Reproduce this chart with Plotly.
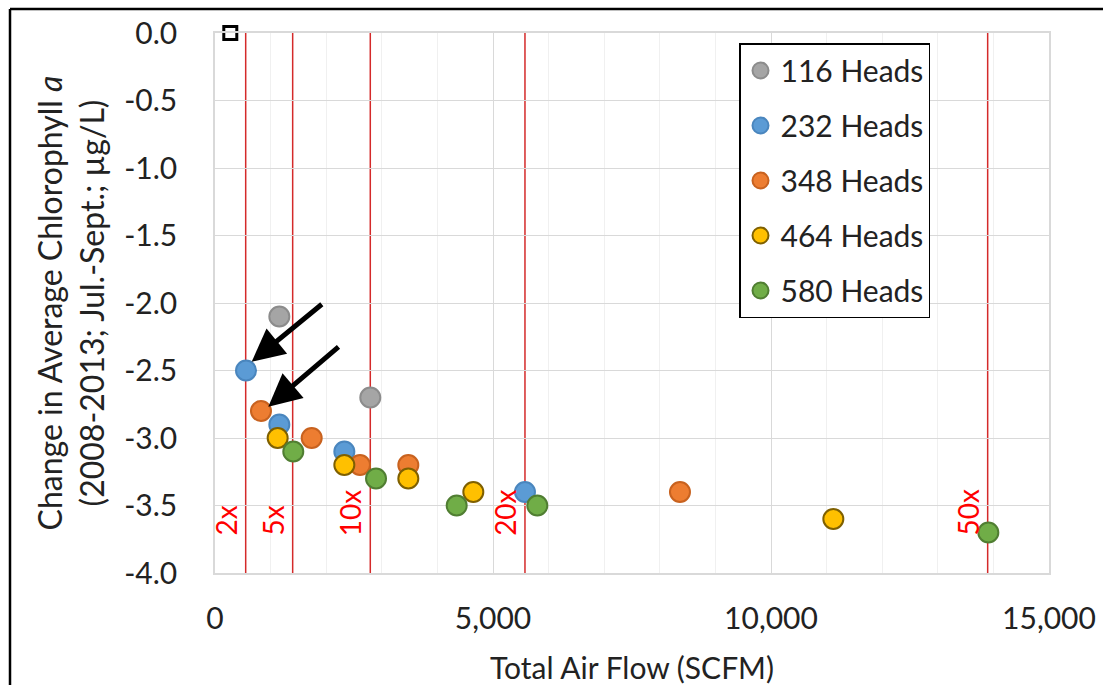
import plotly.graph_objects as go

# ---- data ----
series_names = ["116 Heads", "232 Heads", "348 Heads", "464 Heads", "580 Heads"]
x_116 = [1157, 2793]
y_116 = [-2.1, -2.7]
x_232 = [558, 1157, 2326, 5575]
y_232 = [-2.5, -2.9, -3.1, -3.4]
x_348 = [827, 1739, 2608, 3477, 8363]
y_348 = [-2.8, -3.0, -3.2, -3.2, -3.4]
x_464 = [1127, 2326, 3477, 4646, 11121]
y_464 = [-3.0, -3.2, -3.3, -3.4, -3.6]
x_580 = [1408, 2896, 4347, 5797, 13909]
y_580 = [-3.1, -3.3, -3.5, -3.5, -3.7]

baseline_x = [275]
baseline_y = [0.0]

mult_labels = ["2x", "5x", "10x", "20x", "50x"]
mult_x = [552, 1397, 2793, 5575, 13897]

# arrows: (tip_x, tip_y, tail_x, tail_y)
arrow_tip_x = [660, 959]
arrow_tip_y = [-2.435, -2.768]
arrow_tail_x = [1948, 2248]
arrow_tail_y = [-2.0, -2.316]

x_ticks = [0, 5000, 10000, 15000]
x_tick_labels = ["0", "5,000", "10,000", "15,000"]
y_ticks = [0.0, -0.5, -1.0, -1.5, -2.0, -2.5, -3.0, -3.5, -4.0]
y_tick_labels = ["0.0", "-0.5", "-1.0", "-1.5", "-2.0", "-2.5", "-3.0", "-3.5", "-4.0"]

fill_colors = ["#A5A5A5", "#5B9BD5", "#ED7D31", "#FFC000", "#70AD47"]
line_colors = ["#8C8C8C", "#4A86BE", "#C8621F", "#7F6000", "#507E32"]

FONT = "Lato"

fig = go.Figure()

xs = [x_116, x_232, x_348, x_464, x_580]
ys = [y_116, y_232, y_348, y_464, y_580]
for i, name in enumerate(series_names):
    fig.add_trace(go.Scatter(
        x=xs[i], y=ys[i], mode="markers", name=name,
        legendgroup=name,
        marker=dict(size=20, color=fill_colors[i],
                    line=dict(color=line_colors[i], width=2)),
        cliponaxis=False,
    ))

fig.add_trace(go.Scatter(
    x=baseline_x, y=baseline_y, mode="markers", showlegend=False,
    marker=dict(symbol="square", size=13, color="white",
                line=dict(color="black", width=3)),
    cliponaxis=False,
))

shapes = []
for xv in mult_x:
    shapes.append(dict(type="line", xref="x", yref="y", x0=xv, x1=xv,
                       y0=-4.0, y1=0.0, line=dict(color="#D42A2A", width=1.5),
                       layer="below"))

# outer frame (top and left edges)
W, H = 1103, 685
L, R, T, B = 215, 54, 33, 112
pw, ph = W - L - R, H - T - B
def px2paper_x(px):
    return (px - L) / pw
def px2paper_y(py):
    return (H - B - py) / ph
shapes.append(dict(type="line", xref="paper", yref="paper",
                   x0=px2paper_x(10), x1=px2paper_x(1110),
                   y0=px2paper_y(9), y1=px2paper_y(9),
                   line=dict(color="black", width=2.5)))
shapes.append(dict(type="line", xref="paper", yref="paper",
                   x0=px2paper_x(10), x1=px2paper_x(10),
                   y0=px2paper_y(9), y1=px2paper_y(700),
                   line=dict(color="black", width=2.5)))

annotations = []
for lab, xv in zip(mult_labels, mult_x):
    annotations.append(dict(x=xv, y=-3.74, xref="x", yref="y", text=lab,
                            textangle=-90, showarrow=False,
                            xanchor="right", yanchor="bottom", xshift=-1,
                            font=dict(family=FONT, size=28, color="#FF0000")))
for tx, ty, ax, ay in zip(arrow_tip_x, arrow_tip_y, arrow_tail_x, arrow_tail_y):
    annotations.append(dict(x=tx, y=ty, ax=ax, ay=ay, xref="x", yref="y",
                            axref="x", ayref="y", text="", showarrow=True,
                            arrowhead=2, arrowsize=1.3, arrowwidth=5,
                            arrowcolor="black"))

fig.update_layout(
    width=W, height=H,
    margin=dict(l=L, r=R, t=T, b=B, autoexpand=False),
    paper_bgcolor="white", plot_bgcolor="white",
    font=dict(family=FONT, size=30, color="#222222"),
    showlegend=True,
    legend=dict(x=px2paper_x(739), y=px2paper_y(43), xanchor="left", yanchor="top",
                bordercolor="black", borderwidth=1.5, bgcolor="white",
                font=dict(family=FONT, size=30, color="#222222"),
                traceorder="grouped", tracegroupgap=13,
                itemsizing="trace"),
    shapes=shapes,
    annotations=annotations,
)

fig.update_xaxes(
    range=[0, 15000], tickvals=x_ticks, ticktext=x_tick_labels,
    showgrid=True, gridcolor="#D9D9D9", gridwidth=1,
    minor=dict(dtick=1000, showgrid=True, gridcolor="#F0F0F0", gridwidth=1),
    showline=True, linecolor="#D9D9D9", linewidth=1.5, mirror=True,
    zeroline=False, ticks="", ticklabelstandoff=18, automargin=False,
    title=dict(text="Total Air Flow (SCFM)", standoff=30,
               font=dict(family=FONT, size=30, color="#222222")),
)
fig.update_yaxes(
    range=[-4.0, 0.0], tickvals=y_ticks, ticktext=y_tick_labels,
    showgrid=True, gridcolor="#D9D9D9", gridwidth=1,
    showline=True, linecolor="#D9D9D9", linewidth=1.5, mirror=True,
    zeroline=False, ticks="", ticklabelstandoff=30, automargin=False,
    title=dict(text="Change in Average Chlorophyll <i>a</i><br>(2008-2013; Jul.-Sept.; µg/L)",
               standoff=10, font=dict(family=FONT, size=32, color="#222222")),
)

fig.write_html("out.html", config={"displayModeBar": False},
               post_script="document.body.style.margin='0';document.body.style.overflow='hidden';")
